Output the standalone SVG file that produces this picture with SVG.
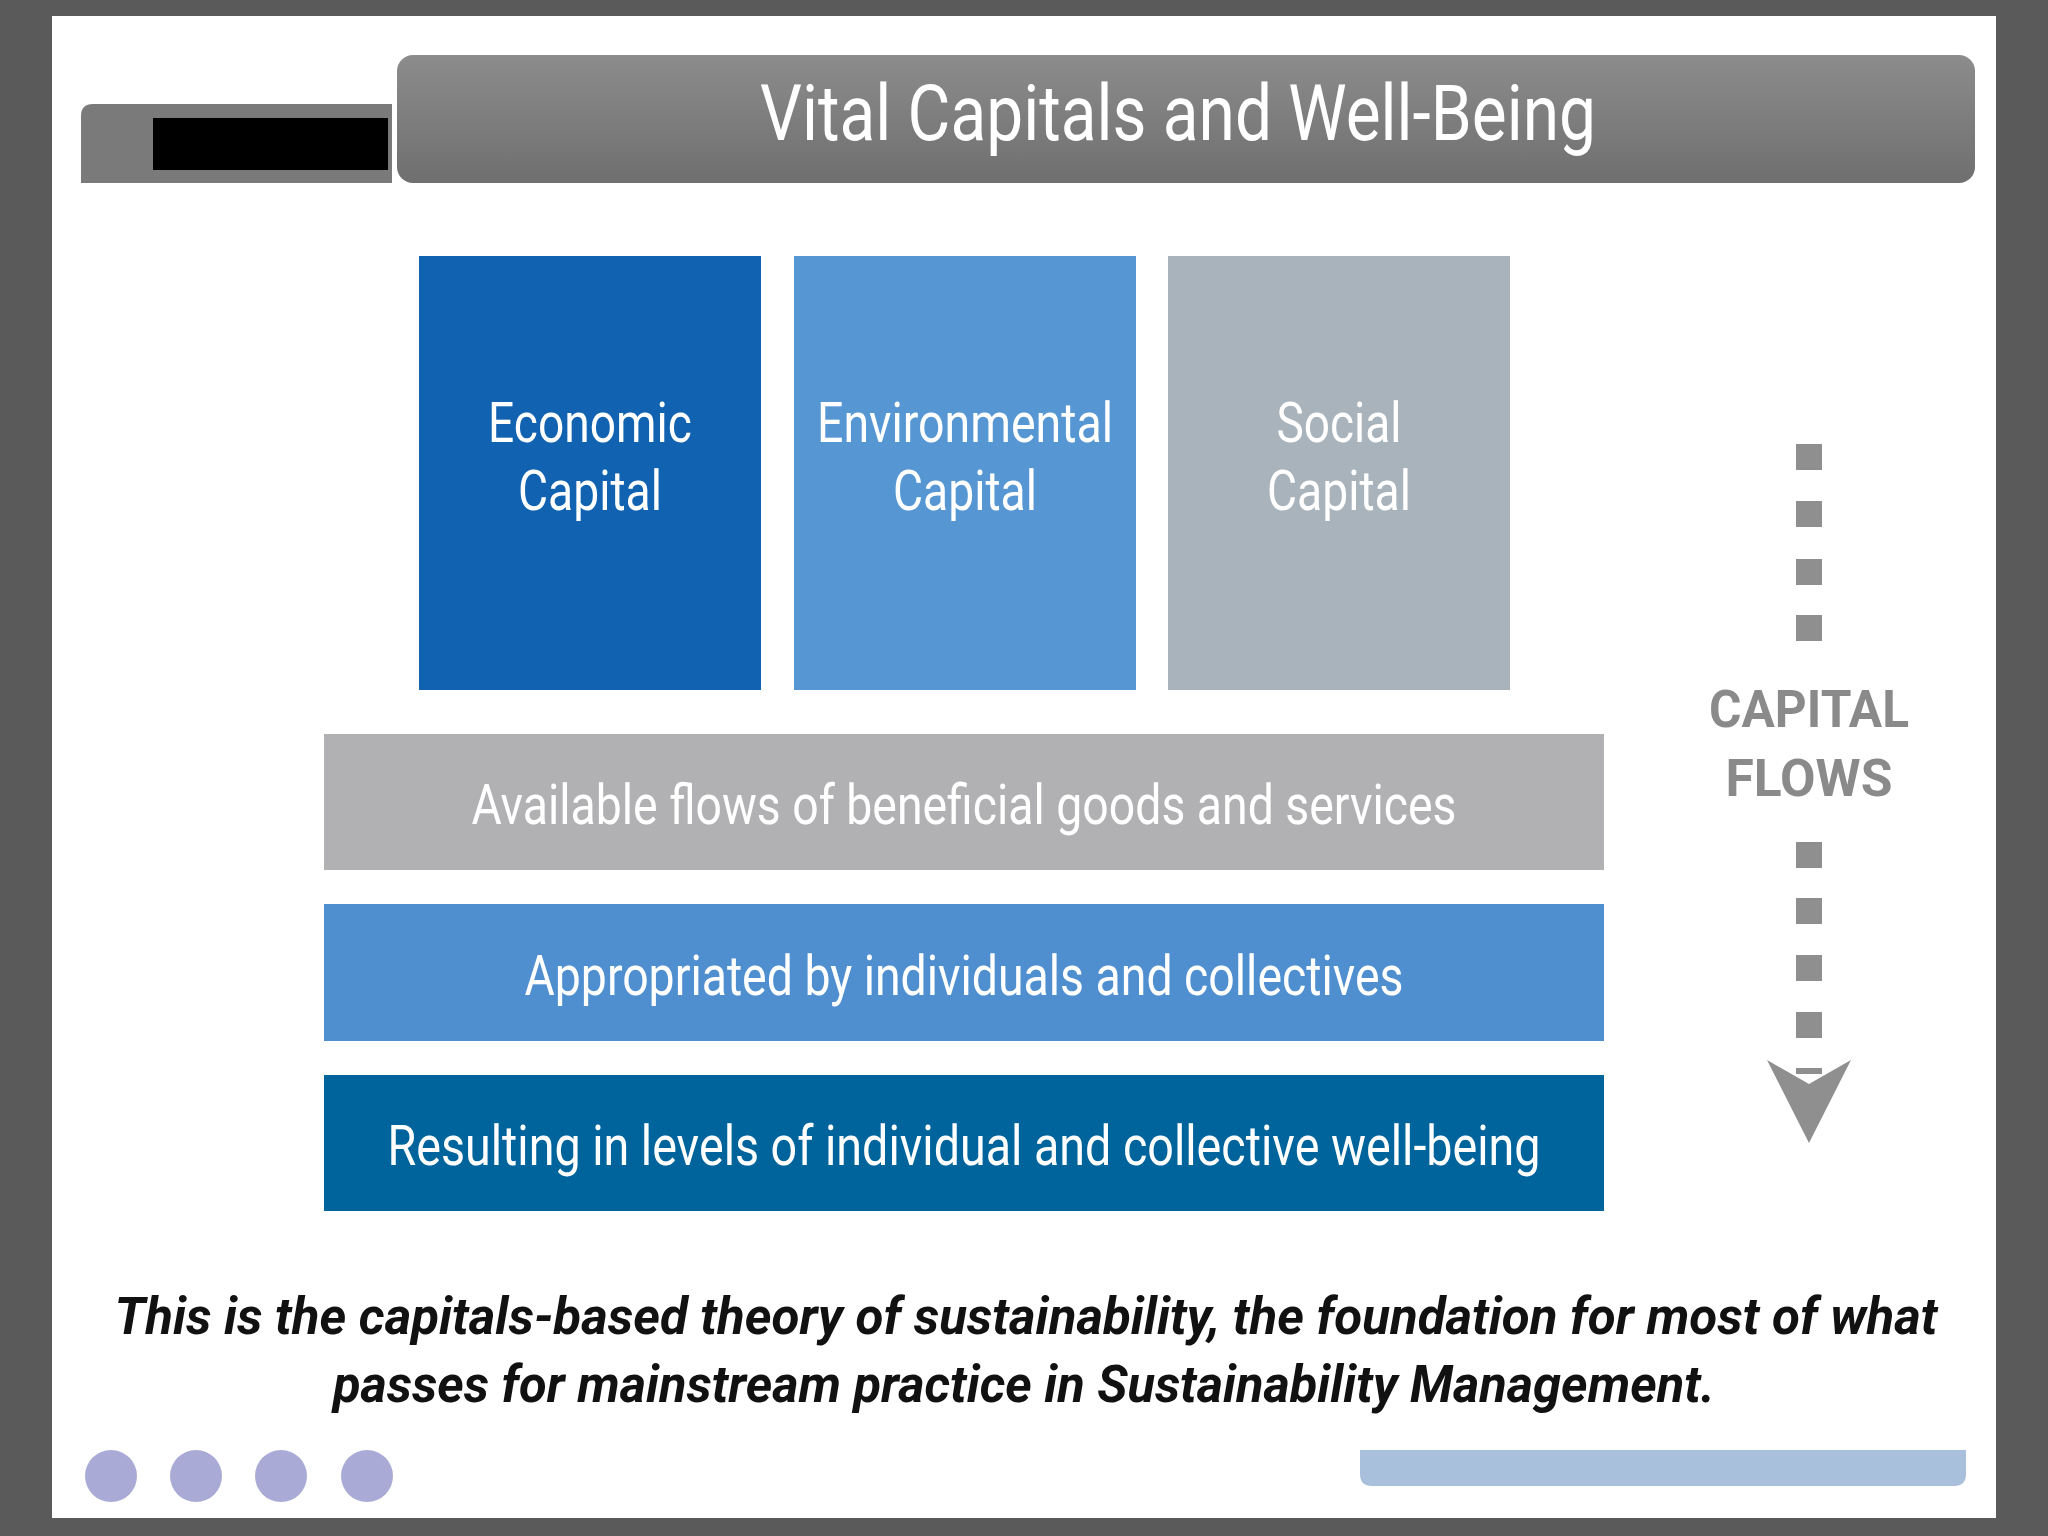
<svg xmlns="http://www.w3.org/2000/svg" width="2048" height="1536" viewBox="0 0 2048 1536">
<defs>
<linearGradient id="tg" x1="0" y1="0" x2="0" y2="1"><stop offset="0" stop-color="#8c8c8c"/><stop offset="1" stop-color="#6f6f6f"/></linearGradient>
<style>
.t{font-family:"Roboto","Liberation Sans",sans-serif;fill:#fff;text-anchor:middle}
.sq{fill:#8f8f8f}
</style>
</defs>
<rect width="2048" height="1536" fill="#5a5a5a"/>
<rect x="52" y="16" width="1944" height="1502" fill="#fff"/>
<g id="tab"><path d="M81 183 V116 Q81 104 93 104 H392 V183 Z" fill="#7a7a7a"/><rect x="153" y="118" width="235" height="52" fill="#000"/></g>
<g id="title"><rect x="397" y="55" width="1578" height="128" rx="16" fill="url(#tg)"/>
<text class="t" x="1178" y="140" font-size="78" textLength="836" lengthAdjust="spacingAndGlyphs">Vital Capitals and Well-Being</text></g>
<g id="economic"><rect x="419" y="256" width="342" height="434" fill="#1162b0"/>
<text class="t" x="590" y="442" font-size="55" textLength="204" lengthAdjust="spacingAndGlyphs">Economic</text>
<text class="t" x="590" y="510" font-size="55" textLength="144" lengthAdjust="spacingAndGlyphs">Capital</text></g>
<g id="environmental"><rect x="794" y="256" width="342" height="434" fill="#5697d3"/>
<text class="t" x="965" y="442" font-size="55" textLength="296" lengthAdjust="spacingAndGlyphs">Environmental</text>
<text class="t" x="965" y="510" font-size="55" textLength="144" lengthAdjust="spacingAndGlyphs">Capital</text></g>
<g id="social"><rect x="1168" y="256" width="342" height="434" fill="#a9b3bb"/>
<text class="t" x="1339" y="442" font-size="55" textLength="125" lengthAdjust="spacingAndGlyphs">Social</text>
<text class="t" x="1339" y="510" font-size="55" textLength="144" lengthAdjust="spacingAndGlyphs">Capital</text></g>
<g id="flows"><rect x="324" y="734" width="1280" height="136" fill="#b1b0b3"/>
<text class="t" x="964" y="824" font-size="55" textLength="985" lengthAdjust="spacingAndGlyphs">Available flows of beneficial goods and services</text></g>
<g id="appropriated"><rect x="324" y="904" width="1280" height="137" fill="#4f8fd0"/>
<text class="t" x="964" y="995" font-size="55" textLength="879" lengthAdjust="spacingAndGlyphs">Appropriated by individuals and collectives</text></g>
<g id="resulting"><rect x="324" y="1075" width="1280" height="136" fill="#00649c"/>
<text class="t" x="964" y="1165" font-size="55" textLength="1153" lengthAdjust="spacingAndGlyphs">Resulting in levels of individual and collective well-being</text></g>
<g id="capitalflows">
<rect class="sq" x="1796" y="444" width="26" height="26"/><rect class="sq" x="1796" y="501" width="26" height="26"/><rect class="sq" x="1796" y="559" width="26" height="26"/><rect class="sq" x="1796" y="615" width="26" height="26"/>
<text x="1809" y="727" font-family="Roboto,'Liberation Sans',sans-serif" font-weight="bold" font-size="52" fill="#8a8a8a" text-anchor="middle" textLength="200" lengthAdjust="spacingAndGlyphs">CAPITAL</text>
<text x="1809" y="796" font-family="Roboto,'Liberation Sans',sans-serif" font-weight="bold" font-size="52" fill="#8a8a8a" text-anchor="middle" textLength="167" lengthAdjust="spacingAndGlyphs">FLOWS</text>
<rect class="sq" x="1796" y="842" width="26" height="26"/><rect class="sq" x="1796" y="898" width="26" height="26"/><rect class="sq" x="1796" y="955" width="26" height="26"/><rect class="sq" x="1796" y="1012" width="26" height="26"/>
<rect class="sq" x="1796" y="1068" width="26" height="6"/>
<polygon points="1767,1060 1809,1143 1851,1060 1809,1084" fill="#8f8f8f"/>
</g>
<g id="caption" font-family="Roboto,'Liberation Sans',sans-serif" font-weight="bold" font-style="italic" font-size="52" fill="#111" text-anchor="middle">
<text x="1026" y="1334" textLength="1823" lengthAdjust="spacingAndGlyphs">This is the capitals-based theory of sustainability, the foundation for most of what</text>
<text x="1024" y="1402" textLength="1382" lengthAdjust="spacingAndGlyphs">passes for mainstream practice in Sustainability Management.</text>
</g>
<g id="footer" fill="#aaaad6">
<circle cx="111" cy="1476" r="26"/><circle cx="196" cy="1476" r="26"/><circle cx="281" cy="1476" r="26"/><circle cx="367" cy="1476" r="26"/>
<path d="M1360 1450 H1966 V1474 Q1966 1486 1954 1486 H1372 Q1360 1486 1360 1474 Z" fill="#a9c0dc"/>
</g>
</svg>
